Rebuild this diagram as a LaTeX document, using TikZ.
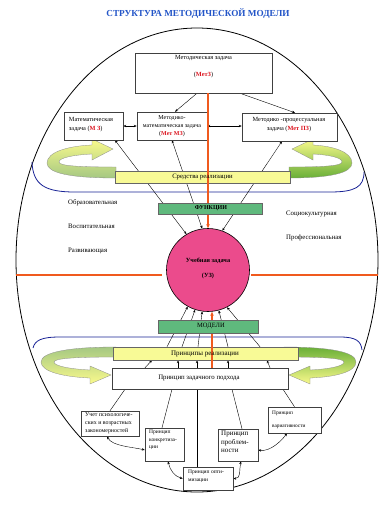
\documentclass[tikz,border=0pt]{standalone}
\usepackage{fontspec}
\setmainfont{Liberation Serif}
\usetikzlibrary{arrows.meta,calc}
\newcommand\szf[2]{\fontsize{#1}{#2}\selectfont}
\newcommand\redb[1]{\textcolor{redt}{\bfseries #1}}
\definecolor{titleblue}{RGB}{35,85,200}
\definecolor{orangeline}{RGB}{240,90,30}
\definecolor{bluecurve}{RGB}{25,35,150}
\definecolor{ybarcol}{RGB}{248,250,150}
\definecolor{gboxcol}{RGB}{95,185,125}
\definecolor{pinkc}{RGB}{235,75,140}
\definecolor{redt}{RGB}{220,20,30}
\definecolor{ribY}{RGB}{250,250,140}
\definecolor{ribGL}{RGB}{165,200,130}
\definecolor{ribG}{RGB}{105,175,55}
\pgfdeclarelayer{bgfill}
\pgfdeclarelayer{back}
\pgfsetlayers{bgfill,back,main}
\begin{document}
\begin{tikzpicture}[x=1pt,y=-1pt,
  box/.style={draw=black!75, line width=0.5pt, fill=white, inner sep=0pt},
  ybar/.style={draw=black!60, line width=0.5pt, fill=ybarcol, inner sep=0pt},
  gbox/.style={draw=black!60, line width=0.5pt, fill=gboxcol, inner sep=0pt},
  txt/.style={inner sep=0pt, align=center, font=\szf{6.3}{9}},
  lab/.style={inner sep=0pt, font=\szf{6.8}{8}},
  small/.style={inner sep=0pt, align=left, font=\szf{5.5}{7.5}},
  conn/.style={line width=0.4pt, -{Stealth[length=3pt,width=2.4pt]}},
  dconn/.style={line width=0.4pt, {Stealth[length=3pt,width=2.4pt]}-{Stealth[length=3pt,width=2.4pt]}},
  pline/.style={line width=0.4pt},
  oline/.style={draw=orangeline, line width=1.4pt},
  oarrow/.style={draw=orangeline, line width=1.3pt, -{Stealth[length=4pt,width=3.5pt]}},
  bluec/.style={draw=bluecurve, line width=0.8pt},
  ribbon/.style={draw=black!45, line width=0.3pt}
]
\useasboundingbox (0,0) rectangle (379,520);
\begin{pgfonlayer}{bgfill}
\fill[white] (0,0) rectangle (379,520);
\end{pgfonlayer}

% title
\node[inner sep=0pt, font=\szf{9.2}{10}\bfseries, text=titleblue] (title) at (198,14) {СТРУКТУРА МЕТОДИЧЕСКОЙ МОДЕЛИ};

% ribbons (top)
\draw[ribbon, top color=ribY, bottom color=ribGL] (116,178) .. controls (70,178) and (47,173) .. (47,163) .. controls (47,152) and (68,146) .. (92,145) -- (92,139) -- (113,149) -- (92,160) -- (92,154) .. controls (72,155) and (59,158) .. (59,162) .. controls (59,166) and (80,167) .. (116,167) -- cycle;
\draw[ribbon, top color=ribY, bottom color=ribG] (289,178) .. controls (330,178) and (352,173) .. (352,163) .. controls (352,152) and (333,146) .. (313,145) -- (313,139) -- (292,149) -- (313,160) -- (313,154) .. controls (331,155) and (342,158) .. (342,162) .. controls (342,166) and (322,167) .. (289,167) -- cycle;
% ribbons (bottom)
\draw[ribbon, top color=ribGL, bottom color=ribY] (116,347) .. controls (70,347) and (41,352) .. (41,362) .. controls (41,372) and (65,377) .. (90,378) -- (90,384) -- (111,375) -- (90,366) -- (90,370) .. controls (70,369) and (54,366) .. (54,362) .. controls (54,358) and (80,357) .. (116,357) -- cycle;
\draw[ribbon, top color=ribG, bottom color=ribY] (284,347) .. controls (330,347) and (356,352) .. (356,362) .. controls (356,372) and (335,377) .. (310,378) -- (310,384) -- (289,375) -- (310,366) -- (310,370) .. controls (330,369) and (344,366) .. (344,362) .. controls (344,358) and (320,357) .. (284,357) -- cycle;

% top boxes
\node[box, minimum width=137pt, minimum height=40pt] (MetZ) at (203.5,73) {};
\node[box, minimum width=59pt, minimum height=28pt] (MZ) at (93.5,126) {};
\node[box, minimum width=70pt, minimum height=28pt] (MetMZ) at (172,126) {};
\node[box, minimum width=95pt, minimum height=28pt] (MetPZ) at (289.5,127) {};

% bars
\node[ybar, minimum width=175pt, minimum height=12pt] (SR) at (202.5,177) {};
\node[ybar, minimum width=185pt, minimum height=13pt] (PR) at (205.5,353.5) {};
\node[box, minimum width=176pt, minimum height=21pt] (PZP) at (200,378.5) {};

% circle
\node[circle, draw=black, line width=0.6pt, fill=pinkc, minimum size=83pt, inner sep=0pt] (UZ) at (208,270) {};

% orange lines
\coordinate (ob) at ($(UZ.south)+(4,0)$);
\coordinate (EL) at (16.4,275);
\coordinate (ER) at (377.6,275);
\draw[oarrow] (MetZ.south -| UZ.north) -- (UZ.north);
\draw[oarrow] (ob |- PZP.north) -- (ob);
\draw[oline] (EL) -- ([shift={(-4pt,-5pt)}]UZ.west);
\draw[oline] (ER) -- ([shift={(1pt,-5pt)}]UZ.east);

% green boxes
\node[gbox, minimum width=104pt, minimum height=11pt] (FUN) at (210,208.5) {};
\node[gbox, minimum width=100pt, minimum height=13pt] (MOD) at (208,326.5) {};

% bottom small boxes
\node[box, minimum width=58pt, minimum height=25pt] (Uchet) at (110,423.5) {};
\node[box, minimum width=39pt, minimum height=33pt] (Konk) at (164.5,444.5) {};
\node[box, minimum width=50pt, minimum height=23pt] (Opt) at (208,478.5) {};
\node[box, minimum width=40pt, minimum height=32pt] (Prob) at (238,445) {};
\node[box, minimum width=53pt, minimum height=26pt] (Var) at (294.5,420) {};

% texts
\node[txt] (tMetZa) at (203.5,58) {Методическая задача};
\node[txt] (tMetZb) at (203.5,75) {(\redb{МетЗ})};
\node[txt, align=left] (tMZ) at (91,124.5) {Математическая\\задача (\redb{М З})};
\node[txt, font=\szf{6}{8}] (tMetMZ) at (172,126) {Методико-\\математическая задача\\(\redb{Мет МЗ})};
\node[txt] (tMetPZ) at (289,124.5) {Методико -процессуальная\\задача (\redb{Мет ПЗ})};
\node[txt, font=\szf{6.7}{8}] (tSR) at (202.5,177) {Средства реализации};
\node[txt, font=\szf{6}{8}\bfseries] (tFUN) at (211,208.5) {ФУНКЦИИ};
\node[txt, font=\szf{6.3}{8}\bfseries] (tUZa) at (208,261) {Учебная задача};
\node[txt, font=\szf{6.3}{8}\bfseries] (tUZb) at (208,276) {(УЗ)};
\node[txt, font=\szf{6.5}{8}] (tMOD) at (211,326.5) {МОДЕЛИ};
\node[txt, font=\szf{7}{8}] (tPR) at (205,353.5) {Принципы реализации};
\node[txt, font=\szf{6.8}{8}] (tPZP) at (199,378) {Принцип задачного подхода};

\node[lab, anchor=west] (fObr) at (68,203) {Образовательная};
\node[lab, anchor=west] (fVos) at (68,226) {Воспитательная};
\node[lab, anchor=west] (fRaz) at (68,251) {Развивающая};
\node[lab, anchor=west] (fSoc) at (286,214) {Социокультурная};
\node[lab, anchor=west] (fPro) at (286,238) {Профессиональная};

\node[small, anchor=north west, font=\szf{5.9}{8}] (tUchet) at (85,412) {Учет психологиче-\\ских и возрастных\\закономерностей};
\node[small, anchor=north west] (tKonk) at (149,430) {Принцип\\конкретиза-\\ции};
\node[small, anchor=north west] (tOpt) at (188,470) {Принцип опти-\\мизации};
\node[small, anchor=north west, font=\szf{7}{8.5}] (tProb) at (221,431) {Принцип\\проблем-\\ности};
\node[small, anchor=north west, font=\szf{5.3}{13}] (tVar) at (272,410.5) {Принцип\\вариативности};

\begin{pgfonlayer}{back}
% outer ellipse
\draw[line width=0.8pt] (197,260) ellipse [x radius=181pt, y radius=232pt];
% blue curves
\draw[bluec] (32,162) .. controls (33,185) and (45,192) .. (75,192) -- (330,192) .. controls (355,192) and (364,187) .. (364,172);
\draw[bluec] (33,348) .. controls (35,340) and (42,337) .. (60,337) -- (340,337) .. controls (356,337) and (361,341) .. (362,350);
% top connectors
\draw[conn] ([xshift=-6.5pt]MetZ.south) -- ([xshift=3pt]MetMZ.north);
\draw[conn] ([xshift=36.5pt]MetZ.south) -- ([xshift=5.5pt]MetPZ.north);
\draw[dconn] (MZ.east) -- (MetMZ.west);
\draw[dconn] (MetMZ.east) -- (MetMZ.east -| MetPZ.west);
\draw[dconn] ([xshift=21.5pt]MZ.south) -- (UZ.121);
\draw[dconn] (MetMZ.south) -- (UZ.98);
\draw[dconn] ([xshift=-7.5pt]MetPZ.south) -- (UZ.70);
% bottom fan
\draw[conn] ([xshift=-38.5pt]PR.north) -- (UZ.241);
\draw[conn] ([xshift=-23.5pt]PR.north) -- (UZ.252);
\draw[conn] ([xshift=-7.5pt]PR.north) -- (UZ.262);
\draw[conn] ([xshift=22.5pt]PR.north) -- (UZ.285);
\draw[conn] ([xshift=54.5pt]PR.north) -- (UZ.297);
\draw[conn] ([xshift=-55pt]PZP.north) -- ([xshift=-53.5pt]PR.south);
\draw[conn] ([xshift=-22pt]PZP.north) -- ([xshift=-27.5pt]PR.south);
\draw[conn] ([xshift=-3pt]PZP.north) -- ([xshift=-8.5pt]PR.south);
\draw[conn] ([xshift=28pt]PZP.north) -- ([xshift=22.5pt]PR.south);
\draw[conn] ([xshift=70pt]PZP.north) -- ([xshift=61.5pt]PR.south);
% lines to small boxes
\draw[pline] ([xshift=-75pt]PZP.south) -- (Uchet.north);
\draw[pline] ([xshift=-28pt]PZP.south) -- ([xshift=-2.5pt]Konk.north);
\draw[pline] ([xshift=-3pt]PZP.south) -- ([xshift=-11pt]Opt.north);
\draw[pline] ([xshift=32pt]PZP.south) -- ([xshift=4pt]Prob.north);
\draw[pline] ([xshift=83pt]PZP.south) -- (Var.north);
% curved double arrows
\draw[dconn] ([xshift=-3pt]Uchet.south) .. controls +(5,10) and +(-12,-3) .. ([yshift=-5.5pt]Konk.west);
\draw[dconn] ([xshift=3.5pt]Konk.south) .. controls +(2,9) and +(-8,-2) .. (Opt.west);
\draw[dconn] (Opt.east) .. controls +(8,0) and +(-2,9) .. ([xshift=3pt]Prob.south);
\draw[dconn] ([yshift=-5pt]Prob.east) .. controls +(12,2) and +(-5,7) .. ([xshift=-7.5pt]Var.south);
\end{pgfonlayer}
\end{tikzpicture}
\end{document}
